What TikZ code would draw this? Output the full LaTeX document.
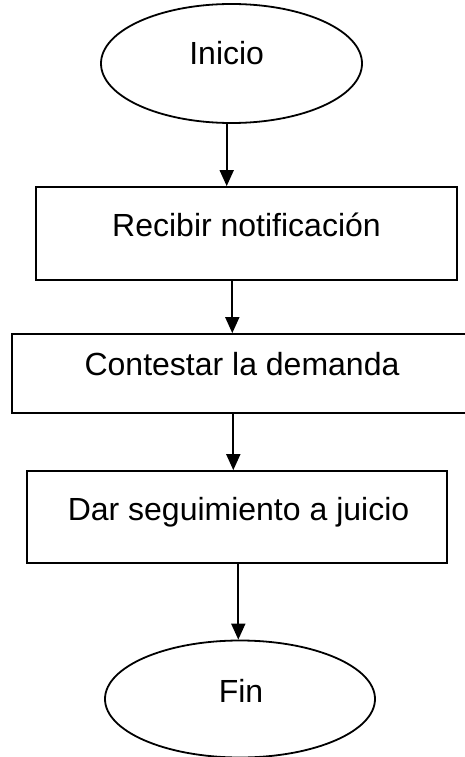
\documentclass[tikz,border=0pt]{standalone}
\usepackage{fontspec}
\setmainfont{Liberation Sans}
\usetikzlibrary{arrows.meta,shapes.geometric}
\tikzset{
  shapeline/.style={draw=black, line width=1.8pt},
  oval/.style={shapeline, ellipse, inner sep=0pt},
  stepbox/.style={shapeline, rectangle, inner sep=0pt},
  lbl/.style={anchor=base, inner sep=0pt, font=\fontsize{32}{38}\selectfont},
  flow/.style={line width=1.8pt, -{Triangle[width=14pt,length=16pt]}}
}
\begin{document}
\begin{tikzpicture}[x=1pt,y=-1pt]
\useasboundingbox (0,0) rectangle (464,757);
% shapes
\node[oval, minimum width=261pt, minimum height=119pt] (inicio) at (231.5,63.5) {};
\node[stepbox, minimum width=421pt, minimum height=93pt] (b1) at (246.5,233.5) {};
\node[stepbox, minimum width=455pt, minimum height=79pt] (b2) at (239.5,373.5) {};
\node[stepbox, minimum width=420pt, minimum height=92pt] (b3) at (237,517) {};
\node[oval, minimum width=270pt, minimum height=117pt] (fin) at (240,699) {};
% texts
\node[lbl] (tinicio) at (226.7,65) {Inicio};
\node[lbl] (tb1) at (246.5,236) {Recibir notificación};
\node[lbl] (tb2) at (242,375) {Contestar la demanda};
\node[lbl] (tb3) at (238.5,520) {Dar seguimiento a juicio};
\node[lbl] (tfin) at (241,702) {Fin};
% connectors
\draw[flow] (inicio.south -| 226.7,0) -- (b1.north -| 226.7,0);
\draw[flow] (b1.south -| 232.3,0) -- (b2.north -| 232.3,0);
\draw[flow] (b2.south -| 233.3,0) -- (b3.north -| 233.3,0);
\draw[flow] (b3.south -| 238.3,0) -- (fin.north -| 238.3,0);
\end{tikzpicture}
\end{document}
